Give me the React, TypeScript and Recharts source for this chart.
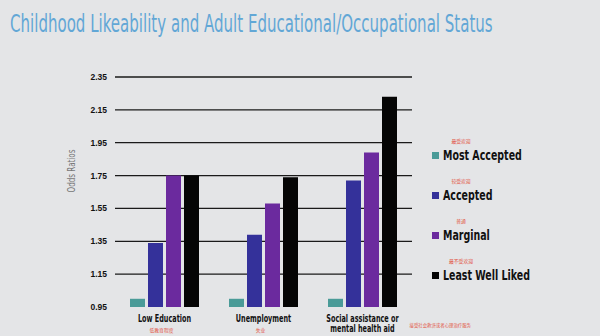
import { useLayoutEffect, useRef, useState } from "react";
import { BarChart, Bar, XAxis, YAxis, CartesianGrid } from "recharts";

const title = "Childhood Likeability and Adult Educational/Occupational Status";
const categories = ["Low Education", "Unemployment", "Social assistance or\nmental health aid"];
const categoriesZh = ["低教育程度", "失业", "接受社会救济或者心理治疗服务"];
const mostAccepted = [1.0, 1.0, 1.0];
const accepted = [1.34, 1.39, 1.72];
const marginal = [1.75, 1.58, 1.89];
const leastLiked = [1.75, 1.74, 2.23];
const yTicks = [0.95, 1.15, 1.35, 1.55, 1.75, 1.95, 2.15, 2.35];

const seriesNames = ["Most Accepted", "Accepted", "Marginal", "Least Well Liked"];
const seriesNamesZh = ["最受欢迎", "较受欢迎", "普通", "最不受欢迎"];
const seriesColors = ["#4a9b98", "#34319a", "#6b2a9e", "#050505"];

const data = categories.map((c, i) => ({
  name: c,
  s0: mostAccepted[i],
  s1: accepted[i],
  s2: marginal[i],
  s3: leastLiked[i],
}));

const cond = "'DejaVu Sans Condensed', 'DejaVu Sans', sans-serif";
const cjk = "'Noto Sans CJK SC', sans-serif";

function CategoryTick({ x, y, payload, index }: any) {
  const lines = String(payload.value).split("\n");
  const zh = categoriesZh[index];
  const twoLine = lines.length > 1;
  return (
    <g>
      {lines.map((l, i) => (
        <text key={i} transform={`translate(${x},${y + 7 + i * 10}) scale(0.72,1)`} textAnchor="middle"
          fontFamily={cond} fontWeight={700} fontSize={10} fill="#111">{l}</text>
      ))}
      {twoLine ? (
        <text x={x + 47} y={y + 12} textAnchor="start" fontSize={4.4} fill="#e2533f" fontFamily={cjk}>{zh}</text>
      ) : (
        <text x={x - 3} y={y + 17} textAnchor="middle" fontSize={4.8} fill="#e2533f" fontFamily={cjk}>{zh}</text>
      )}
    </g>
  );
}

// title is squeezed horizontally to the width it has in the slide
function Title() {
  const ref = useRef<SVGTextElement>(null);
  const [sx, setSx] = useState(0.6);
  useLayoutEffect(() => {
    if (ref.current) {
      const w = ref.current.getComputedTextLength();
      if (w > 0) setSx(483 / w);
    }
  }, []);
  return (
    <text ref={ref} transform={`translate(10,32) scale(${sx},1)`} fontSize={25} fill="#62a7d6" fontFamily={cond}>
      {title}
    </text>
  );
}

export default function App() {
  return (
    <div style={{ position: "relative", width: 600, height: 336, background: "#e4e5e7", overflow: "hidden" }}>
      <style>{`body{margin:0}`}</style>
      <svg width={600} height={336} style={{ position: "absolute", left: 0, top: 0 }}>
        <Title />
        <text x={0} y={0} transform="translate(75,171) rotate(-90) scale(0.8,1)" textAnchor="middle"
          fontSize={10} fill="#777" fontFamily={cond}>Odds Ratios</text>
        {seriesNames.map((n, i) => (
          <g key={n}>
            <text x={461} y={143 + i * 40} textAnchor="middle" fontSize={4.8} fill="#e2533f" fontFamily={cjk}>{seriesNamesZh[i]}</text>
            <rect x={432} y={152 + i * 40} width={7} height={7} fill={seriesColors[i]} />
            <text transform={`translate(443,${160 + i * 40}) scale(0.78,1)`} fontSize={13.5} fontWeight={700} fill="#111"
              fontFamily={cond}>{n}</text>
          </g>
        ))}
      </svg>
      <BarChart width={600} height={336} data={data}
        margin={{ top: 77, right: 188, left: 65, bottom: 0 }}
        barCategoryGap={15} barGap={3}
        style={{ position: "absolute", left: 0, top: 0 }}>
        <CartesianGrid vertical={false} horizontalValues={yTicks.slice(1)} stroke="#1a1a1a" strokeWidth={1.3} />
        <XAxis dataKey="name" height={29} axisLine={false} tickLine={false} interval={0} tick={<CategoryTick />} />
        <YAxis width={50} domain={[0.95, 2.35]} ticks={yTicks} axisLine={false} tickLine={false}
          tickSize={0} tickMargin={8}
          tickFormatter={(v: number) => v.toFixed(2)}
          tick={{ fill: "#111", fontSize: 8.5, fontWeight: 700, fontFamily: "'Liberation Sans', sans-serif" }} />
        {["s0", "s1", "s2", "s3"].map((k, i) => (
          <Bar key={k} dataKey={k} name={seriesNames[i]} fill={seriesColors[i]} isAnimationActive={false} />
        ))}
      </BarChart>
    </div>
  );
}
